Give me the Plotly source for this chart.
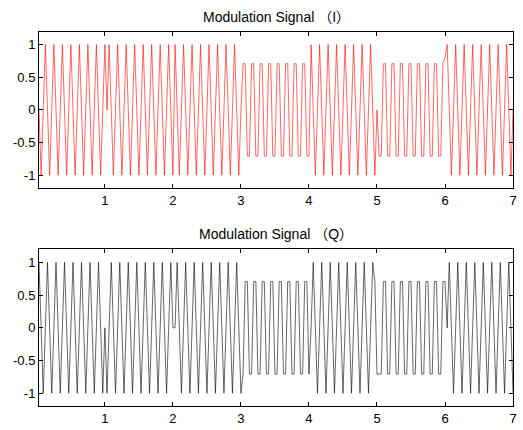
import numpy as np
import plotly.graph_objects as go

# ---- data ----
symbol_count = 7
samples_per_symbol = 32
sample_time = 1 / 32

# one carrier cycle (4 samples) per symbol, in sample order within the symbol
I_cycles = [
    [0, -1, 0, 1],
    [0, 1, 0, -1],
    [1, 0, -1, 0],
    [0.707, 0.707, -0.707, -0.707],
    [1, 0, -1, 0],
    [-0.707, -0.707, 0.707, 0.707],
    [1, 0, -1, 0],
]
Q_cycles = [
    [1, 0, -1, 0],
    [-1, 0, 1, 0],
    [0, 1, 0, -1],
    [-0.707, 0.707, 0.707, -0.707],
    [0, 1, 0, -1],
    [-0.707, -0.707, 0.707, 0.707],
    [0, 1, 0, -1],
]
# individual samples that differ from the repeated cycle (1-based sample index)
I_overrides = {192: 0.8}
Q_overrides = {159: 0.707, 160: -0.707}

x_ticks = [1, 2, 3, 4, 5, 6, 7]
y_ticks = [-1, -0.5, 0, 0.5, 1]
y_tick_text = ["-1", "-0.5", "0", "0.5", "1"]
titles = ["Modulation Signal （I）", "Modulation Signal （Q）"]


def build(cycles, overrides):
    reps = samples_per_symbol // len(cycles[0])
    vals = np.concatenate([np.tile(np.array(c, float), reps) for c in cycles])
    for k, v in overrides.items():
        vals[k - 1] = v
    return vals


I_sig = build(I_cycles, I_overrides)
Q_sig = build(Q_cycles, Q_overrides)
t = np.arange(1, len(I_sig) + 1) * sample_time

W, H = 523, 430
xdom = [39.3 / W, 517 / W]
top_dom = [1 - 188.3 / H, 1 - 31.5 / H]
bot_dom = [1 - 406.3 / H, 1 - 249.3 / H]

fig = go.Figure()
fig.add_trace(go.Scatter(x=t, y=I_sig, mode="lines",
                         line=dict(color="#ff0000", width=0.6),
                         xaxis="x", yaxis="y", showlegend=False))
fig.add_trace(go.Scatter(x=t, y=Q_sig, mode="lines",
                         line=dict(color="#000000", width=0.6),
                         xaxis="x2", yaxis="y2", showlegend=False))

font = dict(family="Liberation Sans, Arial, Noto Sans CJK SC, sans-serif", size=13, color="black")
title_font = dict(font, size=14)

ax_common = dict(showline=True, linecolor="black", linewidth=1, mirror="ticks",
                 ticks="inside", ticklen=4, tickcolor="black", tickwidth=1,
                 showgrid=False, zeroline=False, tickfont=font)

fig.update_layout(
    width=W, height=H,
    margin=dict(l=0, r=0, t=0, b=0),
    paper_bgcolor="white", plot_bgcolor="white",
    font=font,
    xaxis=dict(domain=xdom, anchor="y", range=[t[0], t[-1]], tickvals=x_ticks, **ax_common),
    yaxis=dict(domain=top_dom, anchor="x", range=[-1.2, 1.2], tickvals=y_ticks,
               ticktext=y_tick_text, automargin=False, **ax_common),
    xaxis2=dict(domain=xdom, anchor="y2", range=[t[0], t[-1]], tickvals=x_ticks, **ax_common),
    yaxis2=dict(domain=bot_dom, anchor="x2", range=[-1.2, 1.2], tickvals=y_ticks,
                ticktext=y_tick_text, automargin=False, **ax_common),
    annotations=[
        dict(text=titles[0], x=sum(xdom) / 2, y=1 - 16.5 / H, xref="paper", yref="paper",
             showarrow=False, font=title_font, xanchor="center", yanchor="middle"),
        dict(text=titles[1], x=sum(xdom) / 2, y=1 - 234 / H, xref="paper", yref="paper",
             showarrow=False, font=title_font, xanchor="center", yanchor="middle"),
    ],
)

fig.write_html("out.html", config={"displayModeBar": False},
               post_script="document.body.style.margin='0';document.body.style.overflow='hidden';")
